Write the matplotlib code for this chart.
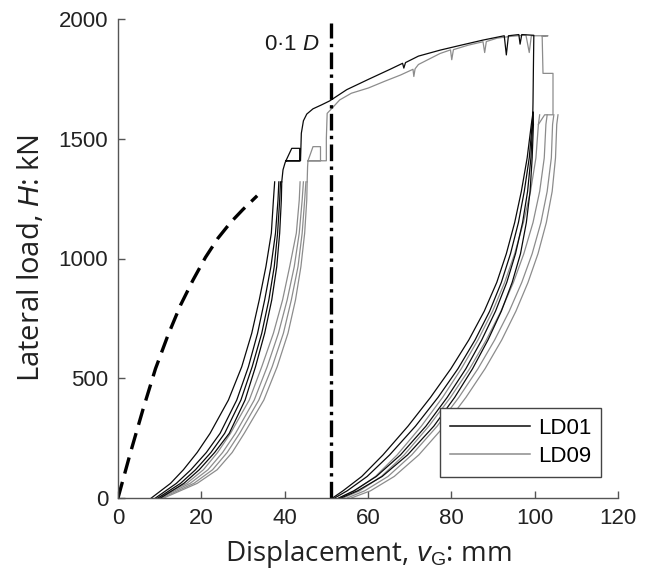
import matplotlib
matplotlib.use("Agg")
import matplotlib.pyplot as plt
from matplotlib.lines import Line2D

plt.rcParams['mathtext.fontset'] = 'custom'
plt.rcParams['mathtext.rm'] = 'Liberation Sans'
plt.rcParams['mathtext.it'] = 'Liberation Sans:italic'

# ---------------- data ----------------
# left cycles: displacement (mm) at each load level (kN)
load_left = [0, 61, 118, 190, 270, 409, 548, 688, 827, 966, 1106, 1244, 1320]
ld01_left_1 = [8.0, 12.6, 15.7, 19.0, 22.1, 26.5, 29.7, 32.1, 33.9, 35.5, 36.8, 37.3, 37.6]
ld01_left_2 = [9.0, 14.0, 17.5, 21.2, 24.5, 28.5, 31.3, 33.5, 35.2, 36.7, 37.8, 38.4, 38.6]
ld01_left_3 = [9.6, 15.0, 18.6, 22.3, 25.6, 29.5, 32.2, 34.5, 36.2, 37.5, 38.3, 38.8, 39.0]
ld01_left_4 = [10.2, 15.8, 19.5, 23.2, 26.7, 30.5, 33.0, 35.2, 36.9, 38.1, 38.8, 39.2, 39.3]
ld09_left_1 = [9.5, 16.5, 20.5, 23.9, 27.0, 31.5, 34.5, 37.3, 39.5, 41.2, 42.8, 43.5, 43.7]
ld09_left_2 = [10.0, 17.3, 21.6, 25.1, 28.2, 32.7, 35.8, 38.5, 40.6, 42.3, 43.5, 44.2, 44.5]
ld09_left_3 = [10.5, 18.2, 22.7, 26.2, 29.2, 33.8, 37.0, 39.7, 41.6, 43.2, 44.2, 44.8, 45.1]
ld09_left_4 = [11.0, 19.0, 23.8, 27.4, 30.3, 35.0, 38.2, 40.8, 42.6, 43.9, 44.8, 45.3, 45.4]

# right cycles
load_right = [0, 30, 90, 180, 300, 420, 540, 660, 780, 900, 1020, 1150, 1280, 1420, 1560]
ld01_right_1 = [51.5, 54.0, 58.5, 63.6, 69.6, 75.0, 79.9, 84.2, 87.9, 90.9, 93.2, 95.2, 96.8, 98.2, 99.2]
ld01_right_2 = [52.0, 55.0, 59.8, 65.2, 71.4, 76.8, 81.6, 85.7, 89.2, 92.0, 94.2, 96.1, 97.5, 98.7, 99.4]
ld01_right_3 = [53.0, 56.6, 62.0, 67.8, 73.9, 79.0, 83.5, 87.3, 90.6, 93.3, 95.4, 97.1, 98.3, 99.1, 99.5]
ld01_right_4 = [53.5, 57.5, 63.4, 69.5, 75.8, 80.8, 85.1, 88.8, 92.0, 94.6, 96.6, 98.0, 98.9, 99.4, 99.7]
ld09_right_1 = [53.0, 56.8, 61.8, 67.0, 72.8, 77.9, 82.4, 86.4, 89.9, 92.8, 95.2, 97.3, 99.0, 100.3, 100.9]
ld09_right_2 = [54.0, 58.0, 63.2, 68.7, 74.6, 79.8, 84.4, 88.4, 91.9, 94.9, 97.4, 99.6, 101.2, 102.3, 102.7]
ld09_right_3 = [55.0, 59.2, 64.8, 70.5, 76.6, 81.8, 86.4, 90.4, 93.9, 96.9, 99.4, 101.5, 103.0, 104.0, 104.3]
ld09_right_4 = [56.0, 60.6, 66.3, 72.2, 78.3, 83.5, 88.1, 92.1, 95.5, 98.4, 100.8, 102.8, 104.2, 105.0, 105.3]

# monotonic part (jumps, backbone to peak, drop after peak)
ld01_main_x = [39.3, 39.6, 40.1, 40.3, 41.7, 43.6, 43.6, 40.3, 43.8, 44.0, 44.5, 45.3, 46.8, 48.8, 50.8,
               54.9, 60.1, 65.3, 68.3, 68.6, 69.0, 72.1, 77.3, 82.4, 87.6, 92.7, 93.2, 93.7, 96.2, 96.5,
               96.9, 99.8, 99.7, 99.6, 99.5]
ld01_main_y = [1320, 1370, 1400, 1408, 1460, 1460, 1408, 1408, 1408, 1523, 1575, 1603, 1625, 1641, 1658,
               1705, 1748, 1790, 1815, 1795, 1818, 1845, 1870, 1891, 1912, 1930, 1850, 1930, 1935, 1895,
               1935, 1932, 1800, 1650, 1560]
ld09_main_x = [45.4, 45.5, 45.6, 46.8, 48.6, 48.6, 45.6, 50.0, 50.0, 50.2, 51.5, 53.2, 56.0, 60.1, 64.0,
               67.8, 70.8, 71.0, 71.3, 72.1, 77.3, 79.8, 80.1, 80.5, 84.1, 87.6, 88.0, 88.4, 91.0, 94.0,
               97.9, 98.7, 99.2, 101.6, 103.2, 101.8, 102.0, 104.4, 104.4, 102.4, 100.9]
ld09_main_y = [1320, 1383, 1408, 1467, 1467, 1408, 1408, 1408, 1500, 1606, 1630, 1662, 1690, 1712, 1740,
               1766, 1790, 1760, 1792, 1810, 1856, 1871, 1830, 1872, 1891, 1905, 1860, 1906, 1920, 1927,
               1933, 1860, 1930, 1930, 1930, 1928, 1773, 1773, 1600, 1600, 1560]

# dashed reference curve
dash_x = [0.0, 3.0, 6.0, 9.0, 12.0, 15.0, 18.0, 21.0, 24.0, 27.0, 30.0, 32.1, 33.4]
dash_y = [0, 190, 370, 540, 680, 805, 910, 1005, 1085, 1150, 1205, 1240, 1262]

# 0.1 D line
d01_x = 51.0
series_names = ['LD01', 'LD09']
x_ticks = [0, 20, 40, 60, 80, 100, 120]
y_ticks = [0, 500, 1000, 1500, 2000]

# ---------------- figure ----------------
fig = plt.figure(figsize=(6.54, 5.82), dpi=100)
ax = fig.add_axes([118/654, 1-498/582, 500/654, 479/582])

c01 = '#0a0a0a'
c09 = '#8c8c8c'
lw = 0.9

for xs in [ld09_left_1, ld09_left_2, ld09_left_3, ld09_left_4]:
    ax.plot(xs, load_left, color=c09, lw=lw)
for xs in [ld09_right_1, ld09_right_2, ld09_right_3, ld09_right_4]:
    ax.plot(xs + [xs[-1] + 0.3], load_right + [1600], color=c09, lw=lw)
ax.plot(ld09_main_x, ld09_main_y, color=c09, lw=lw)

for xs in [ld01_left_1, ld01_left_2, ld01_left_3, ld01_left_4]:
    ax.plot(xs, load_left, color=c01, lw=lw)
for xs in [ld01_right_1, ld01_right_2, ld01_right_3, ld01_right_4]:
    ax.plot(xs + [99.6], load_right + [1610], color=c01, lw=lw)
ax.plot(ld01_main_x, ld01_main_y, color=c01, lw=lw)

ax.plot(dash_x, dash_y, color='black', lw=2.4, dashes=(5, 2.6), dash_capstyle='butt')
ax.plot([d01_x, d01_x], [0, 1985], color='black', lw=2.4, dashes=(5, 1.6, 1, 1.6), dash_capstyle='butt')

ax.text(48.3, 1893, '0·1 $D$', ha='right', va='center', fontsize=16,
        family='Liberation Sans', color='#1a1a1a')

ax.set_xlim(0, 120)
ax.set_ylim(0, 2000)
ax.set_xticks(x_ticks)
ax.set_yticks(y_ticks)
for s in ['top', 'right']:
    ax.spines[s].set_visible(False)
for s in ['left', 'bottom']:
    ax.spines[s].set_color('#555555')
    ax.spines[s].set_linewidth(1.0)
ax.tick_params(direction='in', length=5, width=1, color='#555555', labelsize=16,
               labelcolor='#222222', pad=7)
for lab in ax.get_xticklabels() + ax.get_yticklabels():
    lab.set_family('Liberation Sans')

ax.set_xlabel('Displacement, $v_{\\mathrm{G}}$: mm', fontsize=20, family='Open Sans',
              color='#222222', labelpad=7)
ax.set_ylabel('Lateral load, $H$: kN', fontsize=21, family='Open Sans',
              color='#222222', labelpad=9)

handles = [Line2D([], [], color=c01, lw=1.1), Line2D([], [], color=c09, lw=1.1)]
leg = ax.legend(handles, series_names, loc='lower left', bbox_to_anchor=(0.644, 0.044),
                fontsize=16, handlelength=3.6, handletextpad=0.35, labelspacing=0.3,
                borderpad=0.45, borderaxespad=0, fancybox=False, framealpha=1,
                edgecolor='#444444', prop={'family': 'Liberation Sans', 'size': 16})
leg.get_frame().set_linewidth(1.0)

fig.savefig('out.png', dpi=100)
